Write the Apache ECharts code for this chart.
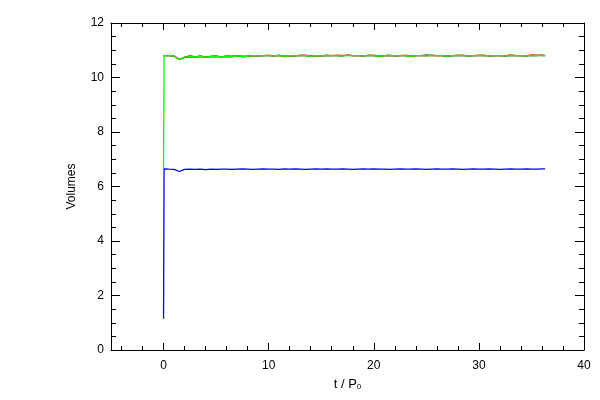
<!DOCTYPE html>
<html><head><meta charset="utf-8">
<script src="https://cdn.jsdelivr.net/npm/echarts@6/dist/echarts.min.js"></script>
<style>html,body{margin:0;padding:0;background:#fff}#c{width:600px;height:400px}</style>
</head><body><div id="c"></div>
<script>
const times = [0, 0.05, 0.5, 1, 1.5, 2, 2.5, 3, 3.5, 4, 4.5, 5, 5.5, 6, 6.5, 7, 7.5, 8, 8.5, 9, 9.5, 10, 10.5, 11, 11.5, 12, 12.5, 13, 13.5, 14, 14.5, 15, 15.5, 16, 16.5, 17, 17.5, 18, 18.5, 19, 19.5, 20, 20.5, 21, 21.5, 22, 22.5, 23, 23.5, 24, 24.5, 25, 25.5, 26, 26.5, 27, 27.5, 28, 28.5, 29, 29.5, 30, 30.5, 31, 31.5, 32, 32.5, 33, 33.5, 34, 34.5, 35, 35.5, 36, 36.3];
const blackVals = [10.80, 10.82, 10.80, 10.79, 10.66, 10.74, 10.77, 10.76, 10.78, 10.75,
 10.77, 10.78, 10.76, 10.78, 10.77, 10.79, 10.77, 10.78, 10.80, 10.79,
 10.80, 10.80, 10.79, 10.81, 10.78, 10.80, 10.79, 10.81, 10.80, 10.78,
 10.80, 10.79, 10.81, 10.80, 10.80, 10.79, 10.82, 10.80, 10.80, 10.79,
 10.81, 10.80, 10.78, 10.80, 10.81, 10.79, 10.80, 10.80, 10.78, 10.80,
 10.80, 10.82, 10.81, 10.80, 10.80, 10.78, 10.80, 10.81, 10.80, 10.79,
 10.80, 10.80, 10.81, 10.79, 10.80, 10.80, 10.79, 10.81, 10.80, 10.80,
 10.79, 10.81, 10.80, 10.82, 10.80];
const redVals = [10.80, 10.82, 10.80, 10.79, 10.66, 10.74, 10.80, 10.76, 10.78, 10.75,
 10.77, 10.78, 10.76, 10.78, 10.77, 10.79, 10.77, 10.78, 10.80, 10.79,
 10.80, 10.82, 10.79, 10.81, 10.78, 10.80, 10.79, 10.81, 10.82, 10.78,
 10.80, 10.79, 10.81, 10.80, 10.82, 10.81, 10.81, 10.80, 10.80, 10.79,
 10.81, 10.82, 10.78, 10.80, 10.81, 10.79, 10.80, 10.82, 10.78, 10.80,
 10.80, 10.79, 10.81, 10.80, 10.80, 10.80, 10.80, 10.81, 10.82, 10.79,
 10.80, 10.82, 10.81, 10.79, 10.80, 10.80, 10.79, 10.83, 10.80, 10.80,
 10.79, 10.83, 10.82, 10.80, 10.80];
const greenVals = [6.65, 10.80, 10.80, 10.79, 10.66, 10.74, 10.77, 10.76, 10.78, 10.75,
 10.77, 10.78, 10.76, 10.78, 10.77, 10.79, 10.77, 10.78, 10.80, 10.79,
 10.80, 10.80, 10.79, 10.81, 10.78, 10.80, 10.79, 10.81, 10.80, 10.78,
 10.80, 10.79, 10.81, 10.80, 10.80, 10.79, 10.81, 10.80, 10.80, 10.79,
 10.81, 10.80, 10.78, 10.80, 10.81, 10.79, 10.80, 10.80, 10.78, 10.80,
 10.80, 10.79, 10.81, 10.80, 10.80, 10.78, 10.80, 10.81, 10.80, 10.79,
 10.80, 10.80, 10.81, 10.79, 10.80, 10.80, 10.79, 10.81, 10.80, 10.80,
 10.79, 10.81, 10.80, 10.80, 10.80];
const blueVals = [1.15, 6.65, 6.64, 6.63, 6.55, 6.63, 6.64, 6.63, 6.64, 6.62,
 6.64, 6.63, 6.64, 6.64, 6.63, 6.64, 6.65, 6.64, 6.63, 6.64,
 6.65, 6.64, 6.64, 6.63, 6.65, 6.64, 6.65, 6.64, 6.63, 6.64,
 6.65, 6.64, 6.65, 6.64, 6.64, 6.65, 6.64, 6.63, 6.64, 6.65,
 6.64, 6.65, 6.64, 6.64, 6.63, 6.64, 6.65, 6.64, 6.64, 6.65,
 6.64, 6.63, 6.64, 6.65, 6.64, 6.64, 6.65, 6.64, 6.63, 6.64,
 6.65, 6.64, 6.64, 6.65, 6.64, 6.63, 6.64, 6.65, 6.64, 6.64,
 6.65, 6.64, 6.64, 6.65, 6.65];

const xMin = -5, xMax = 40, xStep = 10;
const yMin = 0, yMax = 12, yStep = 2;

const chart = echarts.init(document.getElementById('c'), null, {renderer: 'canvas'});
const font = 'Liberation Sans, Arial, sans-serif';
function pairs(vals) { return times.map((t, i) => [t, vals[i]]); }
function xAxisCfg(pos, showLabel) {
  return {
    type: 'value', position: pos, min: xMin, max: xMax, minInterval: xStep, maxInterval: xStep, splitNumber: 4,
    axisLine: {show: true, onZero: false, lineStyle: {color: '#000', width: 1}},
    axisTick: {show: true, inside: true, length: 7, lineStyle: {color: '#000'}},
    minorTick: {show: true, splitNumber: 5, length: 4, lineStyle: {color: '#000'}},
    splitLine: {show: false},
    axisLabel: {show: showLabel, color: '#000', fontFamily: font, fontSize: 12, margin: 10, showMinLabel: false,
      formatter: v => (v % 10 === 0 ? String(v) : '')},
    name: showLabel ? 't / P{s|0}' : '', nameLocation: 'middle', nameGap: 27,
    nameTextStyle: {color: '#000', fontFamily: font, fontSize: 13, rich: {s: {fontSize: 8, verticalAlign: 'bottom', padding: [6, 0, 0, 0], fontFamily: font}}}
  };
}
function yAxisCfg(pos, showLabel) {
  return {
    type: 'value', position: pos, min: yMin, max: yMax, interval: yStep,
    axisLine: {show: true, onZero: false, lineStyle: {color: '#000', width: 1}},
    axisTick: {show: true, inside: true, length: 9, lineStyle: {color: '#000'}},
    minorTick: {show: true, splitNumber: 4, length: 5, lineStyle: {color: '#000'}},
    splitLine: {show: false},
    axisLabel: {show: showLabel, color: '#000', fontFamily: font, fontSize: 12, margin: 7},
    name: showLabel ? 'Volumes' : '', nameLocation: 'middle', nameGap: 33, nameRotate: 90,
    nameTextStyle: {color: '#000', fontFamily: font, fontSize: 12}
  };
}
function line(name, color, vals) {
  return {name, type: 'line', xAxisIndex: 0, yAxisIndex: 0, data: pairs(vals), showSymbol: false, symbol: 'none',
    lineStyle: {color, width: 1.3}, itemStyle: {color}, animation: false};
}
chart.setOption({
  animation: false,
  backgroundColor: '#fff',
  grid: {left: 111, right: 16, top: 23, bottom: 50, containLabel: false},
  xAxis: [xAxisCfg('bottom', true), xAxisCfg('top', false)],
  yAxis: [yAxisCfg('left', true), yAxisCfg('right', false)],
  series: [
    line('black', '#000000', blackVals),
    line('red', '#ff2a00', redVals),
    line('green', '#00ff00', greenVals),
    line('blue', '#0000ff', blueVals)
  ]
});
</script></body></html>
